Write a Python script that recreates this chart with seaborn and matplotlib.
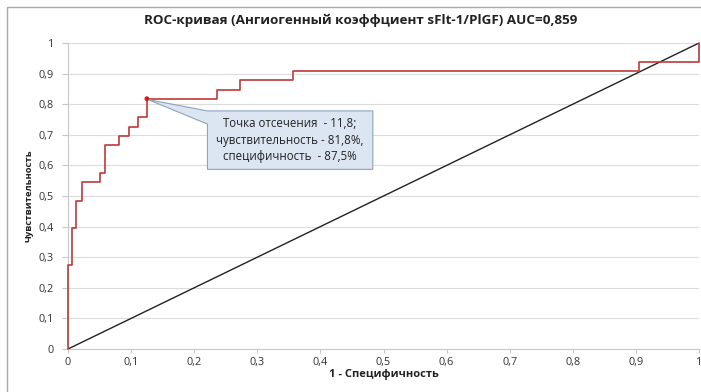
import matplotlib
matplotlib.use("Agg")
import matplotlib.pyplot as plt
from matplotlib.patches import Polygon, Rectangle
import seaborn as sns
import pandas as pd

# ---- data ----
fpr = [0, 0, 0.007, 0.007, 0.013, 0.013, 0.022, 0.022, 0.051, 0.051, 0.058, 0.058,
       0.081, 0.081, 0.096, 0.096, 0.111, 0.111, 0.125, 0.125, 0.236, 0.236,
       0.273, 0.273, 0.356, 0.356, 0.905, 0.905, 1.0, 1.0]
tpr = [0, 0.273, 0.273, 0.394, 0.394, 0.485, 0.485, 0.545, 0.545, 0.576, 0.576, 0.667,
       0.667, 0.697, 0.697, 0.727, 0.727, 0.758, 0.758, 0.818, 0.818, 0.848,
       0.848, 0.879, 0.879, 0.909, 0.909, 0.939, 0.939, 1.0]
diag_x = [0, 1]
diag_y = [0, 1]
cutoff_fpr = [0.125]
cutoff_tpr = [0.818]
tick_vals = [0, 0.1, 0.2, 0.3, 0.4, 0.5, 0.6, 0.7, 0.8, 0.9, 1.0]
tick_labels = ["0", "0,1", "0,2", "0,3", "0,4", "0,5", "0,6", "0,7", "0,8", "0,9", "1"]
title = "ROC-кривая (Ангиогенный коэффциент sFlt-1/PlGF) AUC=0,859"
xlabel = "1 - Специфичность"
ylabel = "Чувствительность"
callout = "Точка отсечения  - 11,8;\nчувствительность - 81,8%,\nспецифичность  - 87,5%"

sns.set_style("white")
plt.rcParams['font.family'] = ['Open Sans', 'DejaVu Sans']

roc = pd.DataFrame({"fpr": fpr, "tpr": tpr})
diag = pd.DataFrame({"x": diag_x, "y": diag_y})
cut = pd.DataFrame({"x": cutoff_fpr, "y": cutoff_tpr})

fig = plt.figure(figsize=(7.01, 3.92), dpi=100)
ax = fig.add_axes([68 / 701, 1 - 349 / 392, 631 / 701, 306 / 392])

# chart border
fig.patches.append(Rectangle((7 / 701, -0.1), 1.2, 1 - 7 / 392 + 0.1, transform=fig.transFigure,
                             fill=False, edgecolor="#a8a8a8", linewidth=1.0))

sns.lineplot(data=diag, x="x", y="y", ax=ax, color="#222222", linewidth=1.0,
             sort=False, estimator=None, zorder=3)
sns.lineplot(data=roc, x="fpr", y="tpr", ax=ax, color="#c03a3a", linewidth=1.2,
             sort=False, estimator=None, zorder=3, clip_on=False)
sns.scatterplot(data=cut, x="x", y="y", ax=ax, color="#d02020", s=12, edgecolor="none", zorder=5)

ax.set_xlim(0, 1)
ax.set_ylim(0, 1)
ax.set_xticks(tick_vals)
ax.set_xticklabels(tick_labels)
ax.set_yticks(tick_vals)
ax.set_yticklabels(tick_labels)
ax.yaxis.grid(True, color="#dcdcdc", linewidth=0.8)
ax.xaxis.grid(False)
ax.set_axisbelow(True)
for s in ["top", "right"]:
    ax.spines[s].set_visible(False)
for s in ["left", "bottom"]:
    ax.spines[s].set_color("#c8c8c8")
    ax.spines[s].set_linewidth(0.8)
ax.tick_params(axis="x", direction="out", length=3, width=0.8, color="#c8c8c8",
               labelsize=7.8, labelcolor="#333333", pad=2.5, bottom=True)
ax.tick_params(axis="y", direction="out", length=4, width=0.8, color="#c8c8c8",
               labelsize=7.8, labelcolor="#333333", pad=6, left=True)

ax.set_xlabel(xlabel, fontsize=8, fontweight="bold", color="#222222", labelpad=1)
ax.set_ylabel(ylabel, fontsize=6.8, fontweight="bold", color="#222222", labelpad=4)
fig.text(361 / 701, 1 - 20 / 392, title, ha="center", va="center",
         fontsize=9.7, fontweight="bold", color="#222222")

# callout with wedge pointing to the cut-off point
bx0, bx1, by0, by1 = 0.221, 0.483, 0.587, 0.778
tip = (cutoff_fpr[0] + 0.002, cutoff_tpr[0] - 0.003)
poly = Polygon([(bx0, by1), (bx1, by1), (bx1, by0), (bx0, by0), (bx0, 0.735), tip],
               closed=True, facecolor="#dce6f2", edgecolor="#8fa3bd", linewidth=0.8, zorder=4)
ax.add_patch(poly)
ax.text((bx0 + bx1) / 2, (by0 + by1) / 2, callout, ha="center", va="center",
        fontsize=8.3, color="#222222", linespacing=1.35, zorder=6)

fig.savefig("out.png", dpi=100)
